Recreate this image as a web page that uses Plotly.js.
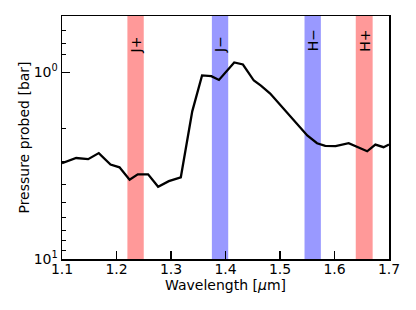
<!DOCTYPE html>
<html>
<head>
<meta charset="utf-8">
<script src="https://cdn.plot.ly/plotly-3.0.1.min.js"></script>
<style>html,body{margin:0;padding:0;background:#fff;}#chart{width:416px;height:310px;}</style>
</head>
<body>
<div id="chart"></div>
<script>
// Data
var wavelength = [1.100, 1.111, 1.126, 1.148, 1.1675, 1.189, 1.2055, 1.224, 1.239, 1.258, 1.2764, 1.296, 1.318, 1.339, 1.357, 1.374, 1.388, 1.416, 1.432, 1.452, 1.465, 1.482, 1.507, 1.531, 1.550, 1.568, 1.583, 1.602, 1.626, 1.660, 1.675, 1.690, 1.700];
var pressure = [3.07, 2.99, 2.88, 2.92, 2.71, 3.12, 3.23, 3.76, 3.52, 3.52, 4.10, 3.83, 3.65, 1.62, 1.04, 1.05, 1.10, 0.887, 0.909, 1.108, 1.18, 1.30, 1.57, 1.89, 2.18, 2.40, 2.48, 2.49, 2.40, 2.65, 2.44, 2.52, 2.44];

var bandLabels = ["J+", "J\u2212", "H\u2212", "H+"];
var bandStart = [1.220, 1.375, 1.545, 1.639];
var bandEnd = [1.250, 1.405, 1.575, 1.670];
var bandColors = ["rgba(255,0,0,0.4)", "rgba(0,0,255,0.4)", "rgba(0,0,255,0.4)", "rgba(255,0,0,0.4)"];
var labelY = [0.881, 0.881, 0.899, 0.899];

var xTicks = [1.1, 1.2, 1.3, 1.4, 1.5, 1.6, 1.7];
var xTickText = ["1.1", "1.2", "1.3", "1.4", "1.5", "1.6", "1.7"];
var yTicks = [1, 10];
var yTickText = ["10<sup>0</sup>", "10<sup>1</sup>"];
var yMinorTicks = [0.6, 0.7, 0.8, 2, 3, 4, 5, 6, 7, 8, 9];

var shapes = [];
var annotations = [];
for (var i = 0; i < bandLabels.length; i++) {
  shapes.push({type: "rect", xref: "x", yref: "paper", x0: bandStart[i], x1: bandEnd[i], y0: 0, y1: 1,
    fillcolor: bandColors[i], line: {width: 0}, layer: "below"});
  annotations.push({xref: "x", yref: "paper", x: (bandStart[i] + bandEnd[i]) / 2, y: labelY[i],
    text: bandLabels[i], showarrow: false, textangle: -90, xanchor: "center", yanchor: "middle",
    font: {family: "DejaVu Sans", size: 14, color: "#000"}});
}

var trace = {x: wavelength, y: pressure, type: "scatter", mode: "lines",
  line: {color: "#000", width: 2.3}, hoverinfo: "skip"};

var layout = {
  width: 416, height: 310,
  margin: {l: 61.5, r: 27.3, t: 15.5, b: 51.3},
  paper_bgcolor: "#fff", plot_bgcolor: "rgba(0,0,0,0)",
  showlegend: false,
  font: {family: "DejaVu Sans", size: 14, color: "#000"},
  xaxis: {range: [1.1, 1.7], tickvals: xTicks, ticktext: xTickText, ticks: "inside", ticklen: 8,
    tickwidth: 1.2, tickcolor: "#000", showgrid: false, zeroline: false, showline: true, linecolor: "#000",
    linewidth: 1.5, mirror: true, tickfont: {size: 14}, ticklabelstandoff: -3,
    title: {text: "Wavelength [<i>\u03bc</i>m]", font: {size: 14}, standoff: 1}},
  yaxis: {type: "log", range: [1, -0.301], tickvals: yTicks, ticktext: yTickText, ticks: "inside", ticklen: 8,
    tickwidth: 1.2, tickcolor: "#000", showgrid: false, zeroline: false, showline: true, linecolor: "#000",
    linewidth: 1.5, mirror: true, tickfont: {size: 14},
    minor: {tickvals: yMinorTicks, ticks: "inside", ticklen: 4, tickwidth: 1, tickcolor: "#000", showgrid: false},
    title: {text: "Pressure probed [bar]", font: {size: 14}, standoff: 0}},
  shapes: shapes,
  annotations: annotations
};

Plotly.newPlot("chart", [trace], layout, {staticPlot: true, displayModeBar: false});
</script>
</body>
</html>
